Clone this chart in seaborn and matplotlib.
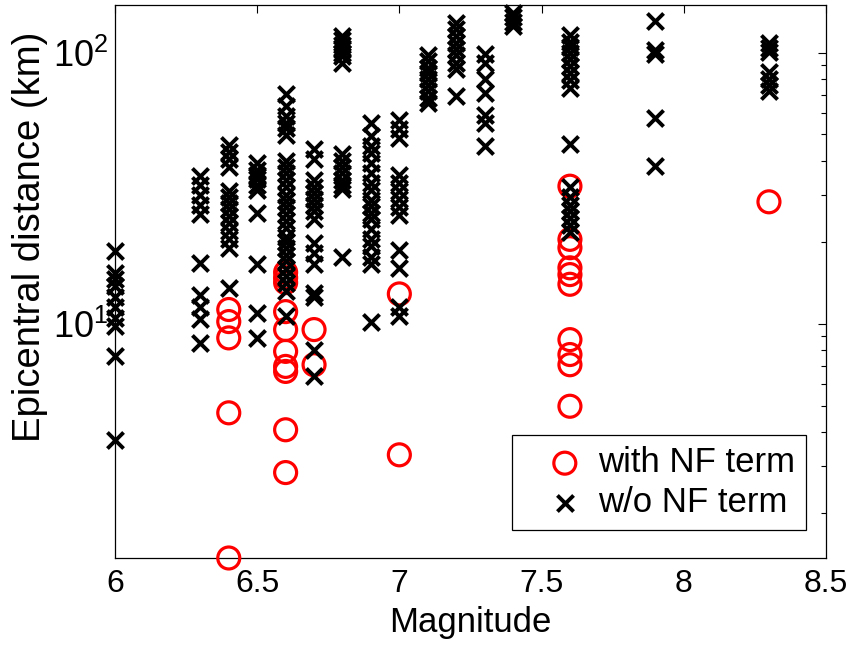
import numpy as np
import pandas as pd
import matplotlib
matplotlib.use("Agg")
import matplotlib.pyplot as plt
import seaborn as sns
from matplotlib.ticker import LogLocator, LogFormatterSciNotation, NullFormatter

# ---- data: magnitude -> epicentral distances (km) ----
with_nf = {
    6.4: [11.3, 10.2, 8.88, 4.70, 1.37],
    6.6: [15.5, 14.8, 14.2, 11.1, 9.53, 7.92, 6.97, 6.68, 4.07, 2.83],
    6.7: [9.53, 7.07],
    7.0: [12.9, 3.29],
    7.6: [32.2, 20.5, 19.1, 16.1, 15.2, 14.0, 8.75, 7.71, 7.07, 4.97],
    8.3: [28.2],
}

without_nf = {
    6.0: [18.5, 15.4, 14.6, 13.8, 12.6, 11.5, 10.5, 9.8, 7.6, 3.74],
    6.3: [35.0, 32.4, 30.0, 27.4, 25.4, 16.8, 12.8, 11.5, 10.4, 8.53],
    6.4: [45.5, 43, 40.5, 38, 31, 29.5, 28, 26.5, 25, 23.5, 22, 20.5, 19.1, 13.6],
    6.5: [39.3, 37.1, 35.5, 34.1, 32.5, 31.3, 25.7, 16.6, 11.0, 8.88],
    6.6: [70.2, 63.5, 58.3, 55.2, 52.9, 49.9, 40, 38, 36, 34, 32, 30, 28.5, 27,
          25.5, 24, 22.5, 21, 20, 19, 18, 17, 16, 15, 14.2, 13.2, 10.65],
    6.7: [44.0, 40.4, 33.8, 32, 30.5, 29, 27.5, 26, 24.4, 19.9, 18.3, 16.7,
          13.0, 12.6, 8.04, 6.41],
    6.8: [115, 111, 107, 104, 100, 97, 92, 42.2, 40, 38, 36, 34, 32.5, 31.5, 17.6],
    6.9: [55.2, 49.2, 45.2, 42.7, 39.3, 36.1, 33.1, 31.3, 28.7, 27.2, 25.7,
          24.3, 22.3, 20.5, 19.3, 17.7, 16.6, 10.2],
    7.0: [56.3, 52.2, 48.6, 35.5, 33, 31, 29, 27, 25.3, 18.8, 16.1, 11.5, 10.65],
    7.1: [98, 93, 88, 84, 80, 76, 72, 68, 65.4],
    7.2: [129, 122, 115, 109, 103, 98, 92, 87, 69.2],
    7.3: [98.6, 91.8, 79.7, 71.2, 59.0, 55.2, 45.2],
    7.4: [140, 135, 130, 126],
    7.6: [116, 110, 105, 100, 95, 89, 84, 79, 74, 45.9,
          31.9, 29.5, 27.5, 26, 24.6, 23.2, 21.9],
    7.9: [131, 102, 98.6, 57.5, 38.2],
    8.3: [109, 104, 101, 85, 80, 76, 72],
}

labels = ["with NF term", "w/o NF term"]
x_ticks = [6, 6.5, 7, 7.5, 8, 8.5]


def to_frame(d):
    rows = [(m, r) for m, vals in d.items() for r in vals]
    return pd.DataFrame(rows, columns=["Magnitude", "Distance"])


df_nf = to_frame(with_nf)
df_wo = to_frame(without_nf)

sns.set_style("white")
plt.rcParams["font.family"] = ["Liberation Sans", "DejaVu Sans"]
plt.rcParams["mathtext.fontset"] = "custom"
plt.rcParams["mathtext.rm"] = "Liberation Sans"
plt.rcParams["mathtext.it"] = "Liberation Sans:italic"
for k in ["text.color", "axes.labelcolor", "xtick.color", "ytick.color"]:
    plt.rcParams[k] = "black"

fig = plt.figure(figsize=(8.54, 6.48), dpi=100)
ax = fig.add_axes([0.1347, 0.1389, 0.8323, 0.8534])

sns.scatterplot(data=df_nf, x="Magnitude", y="Distance", ax=ax, marker="o",
                s=250, facecolors="none", edgecolor="#ff0000", linewidth=2.3,
                label=labels[0], clip_on=False, zorder=3)
sns.scatterplot(data=df_wo, x="Magnitude", y="Distance", ax=ax, marker="x",
                s=135, color="black", linewidth=2.8,
                label=labels[1], clip_on=False, zorder=4)

ax.set_yscale("log")
ax.set_xlim(6, 8.5)
ax.set_ylim(1.37, 150)
ax.set_xticks(x_ticks)
ax.set_xticklabels([f"{t:g}" for t in x_ticks])
ax.yaxis.set_major_locator(LogLocator(base=10, numticks=10))
ax.yaxis.set_major_formatter(LogFormatterSciNotation())
ax.yaxis.set_minor_locator(LogLocator(base=10, subs=np.arange(2, 10), numticks=20))
ax.yaxis.set_minor_formatter(NullFormatter())

ax.set_xlabel("Magnitude", fontsize=25, labelpad=5)
ax.set_ylabel("Epicentral distance (km)", fontsize=27.5)
ax.yaxis.set_label_coords(-0.095, 0.58)
ax.tick_params(axis="both", which="major", direction="in", length=6, width=0.8,
               top=True, right=True)
ax.tick_params(axis="x", which="major", labelsize=23, pad=8)
ax.tick_params(axis="y", which="major", labelsize=26, pad=5)
ax.tick_params(axis="both", which="minor", direction="in", length=3.5, width=0.8,
               top=True, right=True)
for sp in ax.spines.values():
    sp.set_visible(True)
    sp.set_color("black")
    sp.set_linewidth(0.9)

leg = ax.legend(loc="lower right", bbox_to_anchor=(0.972, 0.05), borderaxespad=0,
                fontsize=25, frameon=True, fancybox=False, edgecolor="black",
                handletextpad=-0.25, borderpad=0.32, labelspacing=0.2,
                handlelength=2.4)
leg.get_frame().set_linewidth(0.9)
leg.get_frame().set_alpha(1)

fig.savefig("out.png", dpi=100)
